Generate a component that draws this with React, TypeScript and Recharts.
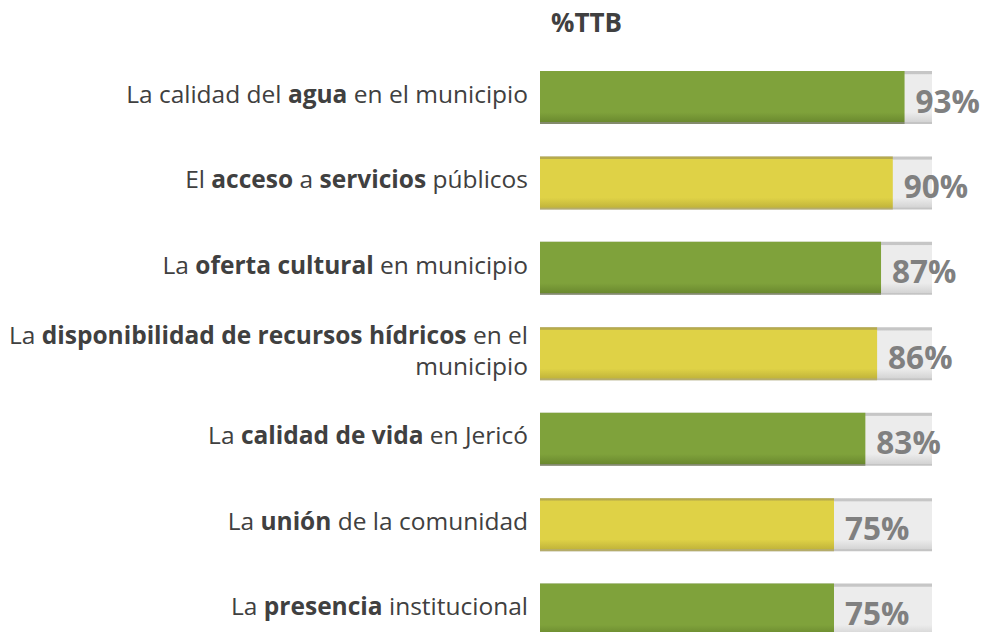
import React from "react";
import { BarChart, Bar, XAxis, YAxis, Cell, LabelList } from "recharts";

const categories = [
  "La calidad del **agua** en el municipio",
  "El **acceso** a **servicios** públicos",
  "La **oferta cultural** en municipio",
  "La **disponibilidad de recursos hídricos** en el\nmunicipio",
  "La **calidad de vida** en Jericó",
  "La **unión** de la comunidad",
  "La **presencia** institucional",
];
const values = [93, 90, 87, 86, 83, 75, 75];
const valueLabels = ["93%", "90%", "87%", "86%", "83%", "75%", "75%"];
const barColors = ["green", "yellow", "green", "yellow", "green", "yellow", "green"];
const title = "%TTB";

const data = categories.map((c, i) => ({ name: c, value: values[i], label: valueLabels[i] }));

const FONT = "'Open Sans', sans-serif";

const parseSegments = (line: string) => {
  const parts = line.split("**");
  return parts.map((t, i) => ({ text: t, bold: i % 2 === 1 })).filter((p) => p.text.length > 0);
};

const CategoryTick = (props: any) => {
  const { x, y, payload } = props;
  const lines: string[] = String(payload.value).split("\n");
  const lineH = 31;
  const startY = y - ((lines.length - 1) * lineH) / 2 + 5;
  return (
    <text textAnchor="end" fontFamily={FONT} fontSize={24.5} fill="#404040">
      {lines.map((ln, li) => (
        <tspan key={li} x={x - 12} y={startY + li * lineH}>
          {parseSegments(ln).map((s, si) => (
            <tspan key={si} fontWeight={s.bold ? 700 : 400}>
              {s.text}
            </tspan>
          ))}
        </tspan>
      ))}
    </text>
  );
};

const ValueLabel = (props: any) => {
  const { x, y, width, height, value } = props;
  return (
    <text
      x={x + width + 11}
      y={y + height / 2 + 15}
      fontFamily={FONT}
      fontWeight={700}
      fontSize={31.5}
      fill="#808080"
      textAnchor="start"
    >
      {value}
    </text>
  );
};

export default function App() {
  return (
    <div style={{ position: "absolute", left: 0, top: 0, width: 988, height: 632, overflow: "hidden", background: "#fff" }}>
      <div
        style={{
          position: "absolute",
          left: 551,
          top: 5,
          fontFamily: FONT,
          fontWeight: 700,
          fontSize: 26,
          color: "#404040",
          lineHeight: "34px",
        }}
      >
        {title}
      </div>
      <BarChart
        width={988}
        height={660}
        data={data}
        layout="vertical"
        margin={{ top: 55, right: 56, bottom: 7, left: 0 }}
        barSize={53}
      >
        <defs>
          <linearGradient id="gGreen" x1="0" y1="0" x2="0" y2="1">
            <stop offset="0" stopColor="#7fa23b" />
            <stop offset="0.78" stopColor="#7fa23b" />
            <stop offset="0.96" stopColor="#6b8a2f" />
            <stop offset="0.97" stopColor="#838a6c" />
            <stop offset="1" stopColor="#838a6c" />
          </linearGradient>
          <linearGradient id="gYellow" x1="0" y1="0" x2="0" y2="1">
            <stop offset="0" stopColor="#b7ab4c" />
            <stop offset="0.04" stopColor="#b7ab4c" />
            <stop offset="0.05" stopColor="#dfd246" />
            <stop offset="0.78" stopColor="#dfd246" />
            <stop offset="0.96" stopColor="#c2b53b" />
            <stop offset="0.97" stopColor="#b5ac6a" />
            <stop offset="1" stopColor="#b5ac6a" />
          </linearGradient>
          <linearGradient id="gGray" x1="0" y1="0" x2="0" y2="1">
            <stop offset="0" stopColor="#c6c6c6" />
            <stop offset="0.05" stopColor="#c6c6c6" />
            <stop offset="0.07" stopColor="#ececec" />
            <stop offset="0.78" stopColor="#ececec" />
            <stop offset="0.96" stopColor="#d4d4d4" />
            <stop offset="0.97" stopColor="#c4c4c4" />
            <stop offset="1" stopColor="#c4c4c4" />
          </linearGradient>
        </defs>
        <XAxis type="number" domain={[0, 100]} hide />
        <YAxis
          type="category"
          dataKey="name"
          width={540}
          axisLine={false}
          tickLine={false}
          tickSize={0}
          tickMargin={0}
          tick={<CategoryTick />}
          interval={0}
        />
        <Bar dataKey="value" isAnimationActive={false} background={{ fill: "url(#gGray)" }}>
          {data.map((d, i) => (
            <Cell key={i} fill={barColors[i] === "green" ? "url(#gGreen)" : "url(#gYellow)"} />
          ))}
          <LabelList dataKey="label" content={<ValueLabel />} />
        </Bar>
      </BarChart>
    </div>
  );
}
